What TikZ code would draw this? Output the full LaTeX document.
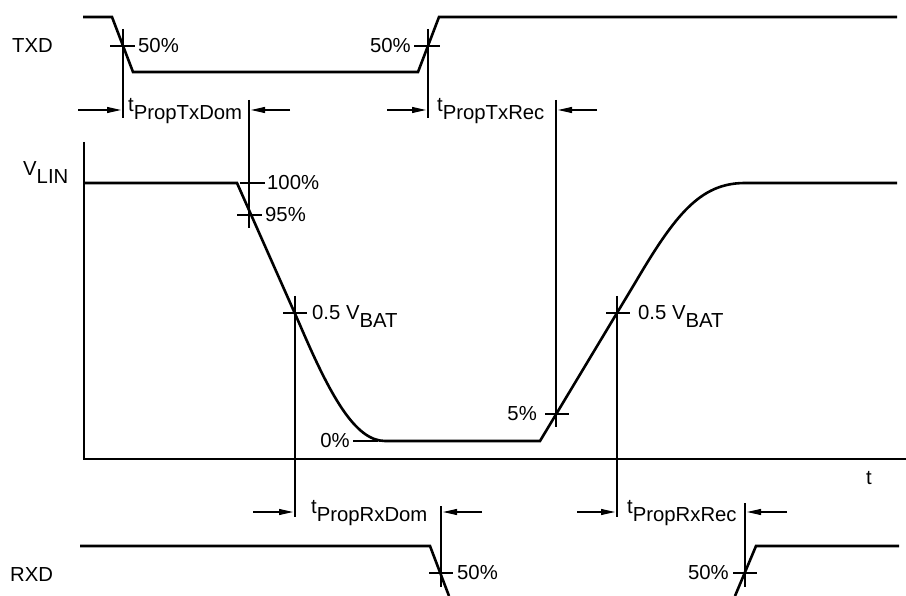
\documentclass[tikz,border=0pt]{standalone}
\usepackage{fontspec}
\setmainfont{Liberation Sans}
\usetikzlibrary{arrows.meta}
\newcommand{\lowsub}[2]{#1\raisebox{-8pt}{#2}}
\begin{document}
\begin{tikzpicture}[x=1pt,y=-1pt,
  sig/.style={line width=2.6pt,line join=miter},
  thinline/.style={line width=1.1pt},
  axisline/.style={line width=2pt},
  dimarrow/.style={line width=1.1pt,-{Triangle[length=14pt,width=6pt]}},
  lbl/.style={inner sep=0pt,font=\fontsize{20.3}{23}\selectfont}]
\useasboundingbox (0,0) rectangle (906,596);
% ---------- TXD ----------
\draw[sig] (83,17) -- (112,17) -- (133,72) -- (418,72) -- (439,17) -- (897,17);
\draw[thinline] (123,29) -- (123,118) (110,46) -- (135,46);
\draw[thinline] (428,29) -- (428,118) (414,46) -- (440,46);
\node[lbl,anchor=west] (txd) at (12,46) {TXD};
\node[lbl,anchor=west] (txf50) at (138,46) {50\%};
\node[lbl,anchor=east] (txr50) at (411,46) {50\%};
% tPropTxDom
\coordinate (a1s) at (78,110); \coordinate (a1e) at (121,110);
\coordinate (a2s) at (290,110); \coordinate (a2e) at (251,110);
\draw[dimarrow] (a1s) -- (a1e);
\draw[dimarrow] (a2s) -- (a2e);
\draw[thinline] (249,100) -- (249,228);
\node[lbl,anchor=base west] (tptd) at (128,112) {\lowsub{t}{PropTxDom}};
% tPropTxRec
\coordinate (a3s) at (387,110); \coordinate (a3e) at (426,110);
\coordinate (a4s) at (597,110); \coordinate (a4e) at (558,110);
\draw[dimarrow] (a3s) -- (a3e);
\draw[dimarrow] (a4s) -- (a4e);
\draw[thinline] (556,100) -- (556,427);
\node[lbl,anchor=base west] (tptr) at (437,112) {\lowsub{t}{PropTxRec}};
% ---------- VLIN ----------
\draw[axisline] (84,142) -- (84,459) -- (906,459);
\node[lbl,anchor=base west] (vlin) at (23,176) {V\raisebox{-8pt}{LIN}};
\node[lbl,anchor=center] (tax) at (869,478) {t};
\draw[sig] (84,183) -- (237,183) -- (300,325) .. controls (330,395) and (355,441) .. (385,441)
  -- (540,441) -- (635,283) .. controls (675,215) and (700,183) .. (745,183) -- (897,183);
\draw[thinline] (240,183) -- (265,183);
\node[lbl,anchor=west] (p100) at (267,183) {100\%};
\draw[thinline] (237,215) -- (262,215);
\node[lbl,anchor=west] (p95) at (265,215) {95\%};
\draw[thinline] (283,313) -- (307,313) (295,296) -- (295,517);
\node[lbl,anchor=base west] (vbf) at (312,320) {0.5 V\raisebox{-8pt}{BAT}};
\draw[thinline] (353,441) -- (378,441);
\node[lbl,anchor=east] (p0) at (350,441) {0\%};
\draw[thinline] (545,414) -- (569,414);
\node[lbl,anchor=east] (p5) at (537,414) {5\%};
\draw[thinline] (606,313) -- (630,313) (617,296) -- (617,517);
\node[lbl,anchor=base west] (vbr) at (638,320) {0.5 V\raisebox{-8pt}{BAT}};
% tPropRxDom
\coordinate (b1s) at (253,512); \coordinate (b1e) at (293,512);
\coordinate (b2s) at (482,512); \coordinate (b2e) at (443,512);
\draw[dimarrow] (b1s) -- (b1e);
\draw[dimarrow] (b2s) -- (b2e);
\draw[thinline] (441,506) -- (441,587);
\node[lbl,anchor=base west] (tprd) at (311,513) {\lowsub{t}{PropRxDom}};
% tPropRxRec
\coordinate (b3s) at (577,512); \coordinate (b3e) at (615,512);
\coordinate (b4s) at (787,512); \coordinate (b4e) at (747,512);
\draw[dimarrow] (b3s) -- (b3e);
\draw[dimarrow] (b4s) -- (b4e);
\draw[thinline] (745,503) -- (745,587);
\node[lbl,anchor=base west] (tprr) at (627,513) {\lowsub{t}{PropRxRec}};
% ---------- RXD ----------
\draw[sig] (80,546) -- (430,546) -- (449,596);
\draw[sig] (735,596) -- (756,546) -- (899,546);
\draw[thinline] (429,573) -- (453,573) (733,573) -- (757,573);
\node[lbl,anchor=west] (rxd) at (10,575) {RXD};
\node[lbl,anchor=west] (rxf50) at (457,573) {50\%};
\node[lbl,anchor=east] (rxr50) at (729,573) {50\%};
\end{tikzpicture}
\end{document}
